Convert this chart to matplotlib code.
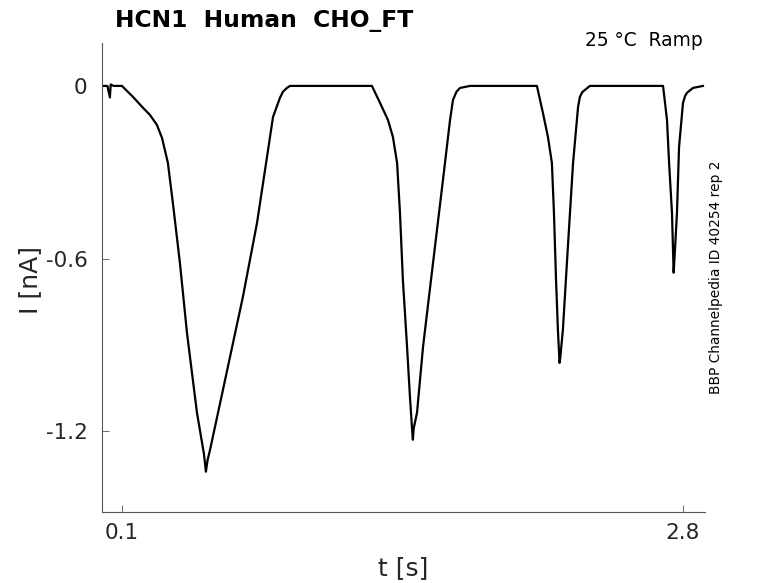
import matplotlib
matplotlib.use("Agg")
import matplotlib.pyplot as plt
import numpy as np

# trace, time in s and current in nA
t = [0.004, 0.030, 0.042, 0.046, 0.060, 0.100, 0.153, 0.200, 0.235, 0.268,
     0.293, 0.321, 0.345, 0.379, 0.413, 0.461, 0.495, 0.504, 0.512, 0.524,
     0.586, 0.682, 0.750, 0.798, 0.827, 0.860, 0.875, 0.894, 0.909, 1.100,
     1.303, 1.342, 1.380, 1.404, 1.424, 1.438, 1.452, 1.472, 1.486, 1.497,
     1.500, 1.504, 1.520, 1.549, 1.597, 1.645, 1.679, 1.693, 1.710, 1.727,
     1.775, 1.950, 2.097, 2.126, 2.150, 2.169, 2.179, 2.189, 2.198, 2.206,
     2.210, 2.222, 2.246, 2.271, 2.295, 2.304, 2.315, 2.328, 2.352, 2.550,
     2.704, 2.723, 2.733, 2.747, 2.755, 2.759, 2.771, 2.781, 2.800, 2.810,
     2.819, 2.848, 2.896]
current = [0.0, 0.0, -0.040, 0.005, 0.0, 0.0, -0.038, -0.075, -0.101, -0.135,
           -0.181, -0.267, -0.406, -0.615, -0.858, -1.135, -1.280, -1.340, -1.300, -1.264,
           -1.056, -0.733, -0.476, -0.247, -0.108, -0.042, -0.020, -0.007, 0.0, 0.0,
           0.0, -0.059, -0.118, -0.177, -0.267, -0.441, -0.674, -0.906, -1.080, -1.200,
           -1.229, -1.190, -1.135, -0.906, -0.615, -0.326, -0.118, -0.049, -0.020, -0.007,
           0.0, 0.0, 0.0, -0.094, -0.177, -0.267, -0.441, -0.674, -0.847, -0.962,
           -0.940, -0.847, -0.559, -0.267, -0.073, -0.038, -0.022, -0.014, 0.0, 0.0,
           0.0, -0.118, -0.267, -0.441, -0.649, -0.600, -0.441, -0.212, -0.059, -0.035,
           -0.024, -0.007, 0.0]

x_ticks = [0.1, 2.8]
y_ticks = [0, -0.6, -1.2]

fig = plt.figure(figsize=(7.78, 5.83), dpi=100)
ax = fig.add_axes([0.1311, 0.1218, 0.7751, 0.8044])

ax.plot(t, current, color="black", linewidth=1.6)

ax.set_xlim(0.004, 2.906)
ax.set_ylim(-1.48, 0.149)
ax.set_xticks(x_ticks)
ax.set_xticklabels(["0.1", "2.8"])
ax.set_yticks(y_ticks)
ax.set_yticklabels(["0", "-0.6", "-1.2"])

for side in ["top", "right"]:
    ax.spines[side].set_visible(False)
for side in ["left", "bottom"]:
    ax.spines[side].set_color("#555555")
    ax.spines[side].set_linewidth(0.8)

ax.tick_params(direction="in", length=5, width=0.6, color="#555555",
               labelsize=15.5, labelcolor="#262626")
ax.tick_params(axis="y", pad=10.5)
ax.tick_params(axis="x", pad=8)

ax.set_xlabel("t [s]", fontsize=18, color="#262626", labelpad=9)
ax.set_ylabel("I [nA]", fontsize=18, color="#262626")
ax.yaxis.set_label_coords(-0.1, 0.495)

fig.text(115 / 778, 1 - 20 / 583, "HCN1  Human  CHO_FT", fontsize=16.8,
         fontweight="bold", ha="left", va="center")
fig.text(703 / 778, 1 - 40 / 583, "25 °C  Ramp", fontsize=13.4,
         ha="right", va="center")
fig.text(716 / 778, 1 - 277 / 583, "BBP Channelpedia ID 40254 rep 2",
         fontsize=9.9, rotation=90, ha="center", va="center")

fig.savefig("out.png", dpi=100)
